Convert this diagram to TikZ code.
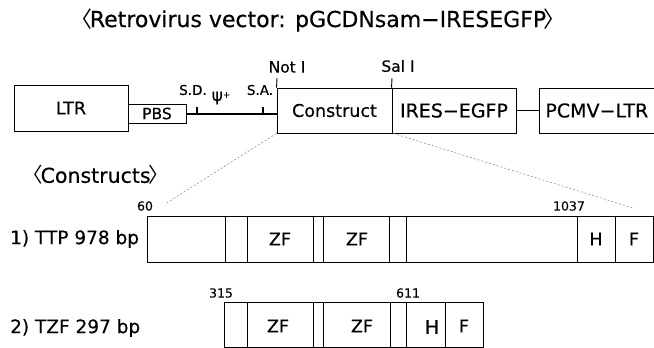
\documentclass[tikz,border=0pt]{standalone}
\usepackage{fontspec}
\setmainfont{DejaVu Sans}[FakeBold=0.35]
\newfontfamily\cjk{Noto Sans CJK JP}
\begin{document}
\begin{tikzpicture}[x=1pt,y=-1pt,
  box/.style={draw,line width=0.9pt,rectangle,inner sep=0pt,font=\fontsize{17.5}{20}\selectfont},
  lbl/.style={inner sep=0pt,font=\fontsize{17.5}{20}\selectfont},
  small/.style={inner sep=0pt,font=\fontsize{12.5}{14}\selectfont},
  guide/.style={draw=gray,line width=0.5pt,dash pattern=on 2pt off 2pt},
  div/.style={line width=0.9pt}]
\useasboundingbox (0,0) rectangle (654,348);
\clip (0,0) rectangle (654,348);
% title
\node[inner sep=0pt,font=\fontsize{22}{24}\selectfont] (title) at (318,20) {{\cjk 〈}\kern-0.1em Retrovirus vector: pGCDNsam−IRESEGFP\kern-0.1em{\cjk 〉}};
% top row
\node[box,minimum width=114,minimum height=46] (ltr) at (71,108) {LTR};
\node[box,minimum width=58,minimum height=19,font=\fontsize{15.5}{17}\selectfont] (pbs) at (157,113.5) {PBS};
\node[box,minimum width=115,minimum height=45] (cons) at (334.5,110.5) {Construct};
\node[box,minimum width=124,minimum height=45,font=\fontsize{19}{21}\selectfont] (ires) at (454,110.5) {IRES−EGFP};
\node[box,minimum width=140,minimum height=45,anchor=west,text width=130,align=left,inner xsep=6pt,font=\fontsize{19}{21}\selectfont] (pcmv) at (539,110.5) {PCMV−LTR};
\draw[line width=2pt] (pbs.east) -- (cons.west |- pbs.east);
\draw[line width=0.9pt] (ires.east) -- (pcmv.west);
\coordinate (sd) at (197,113.5);
\coordinate (sa) at (263,113.5);
\draw[line width=1.2pt] (sd) -- ++(0,-7);
\draw[line width=1.2pt] (sa) -- ++(0,-7);
\node[small,font=\fontsize{13.5}{15}\selectfont] (sdl) at (193,90) {S.D.};
\node[inner sep=0pt,font=\fontsize{17}{19}\selectfont] (psi) at (221,98) {ψ\raisebox{3pt}{\fontsize{9}{10}\selectfont +}};
\node[small,font=\fontsize{13.5}{15}\selectfont] (sal) at (260,90) {S.A.};
\coordinate (noti) at (277,78);
\coordinate (sali) at (392,78);
\draw[line width=0.9pt] (noti) -- (cons.north west);
\draw[line width=0.9pt] (sali) -- (ires.north west);
\node[inner sep=0pt,font=\fontsize{15.5}{17}\selectfont] (notl) at (287,67) {Not I};
\node[inner sep=0pt,font=\fontsize{15.5}{17}\selectfont] (sall) at (398,66) {Sal I};
% constructs label
\node[inner sep=0pt,anchor=west,font=\fontsize{20.5}{23}\selectfont] (cl) at (22,175) {{\cjk 〈}\kern-0.1em Constructs\kern-0.1em{\cjk 〉}};
% row 1
\node[box,minimum width=506,minimum height=46,anchor=north west] (r1) at (147,216) {};
\foreach \x in {225,247,313,323,389,406,577,615} \draw[div] (\x,216) -- (\x,262);
\node[lbl] (z1) at (280,239) {ZF};
\node[lbl] (z2) at (357,239) {ZF};
\node[lbl] (h1) at (596,239) {H};
\node[lbl] (f1) at (634,239) {F};
\node[lbl,anchor=west,font=\fontsize{18.5}{20}\selectfont] (t1) at (10,239) {1) TTP 978 bp};
\node[small] (n60) at (145,206) {60};
\node[small] (n1037) at (569,206) {1037};
% guides
\coordinate (g1) at (165,204);
\coordinate (g2) at (633,208);
\draw[guide] (cons.south west) -- (g1);
\draw[guide] ([xshift=2pt]ires.south west) -- (g2);
% row 2
\node[box,minimum width=259,minimum height=45,anchor=north west] (r2) at (224,302) {};
\foreach \x in {247,313,323,390,406,445} \draw[div] (\x,302) -- (\x,347);
\node[lbl] (z3) at (278,326) {ZF};
\node[lbl] (z4) at (362,326) {ZF};
\node[lbl,font=\fontsize{19}{21}\selectfont] (h2) at (432,327) {H};
\node[lbl] (f2) at (464,326) {F};
\node[lbl,anchor=west,font=\fontsize{18.5}{20}\selectfont] (t2) at (10,328) {2) TZF 297 bp};
\node[small] (n315) at (221,293) {315};
\node[small] (n611) at (408,293) {611};
\end{tikzpicture}
\end{document}
